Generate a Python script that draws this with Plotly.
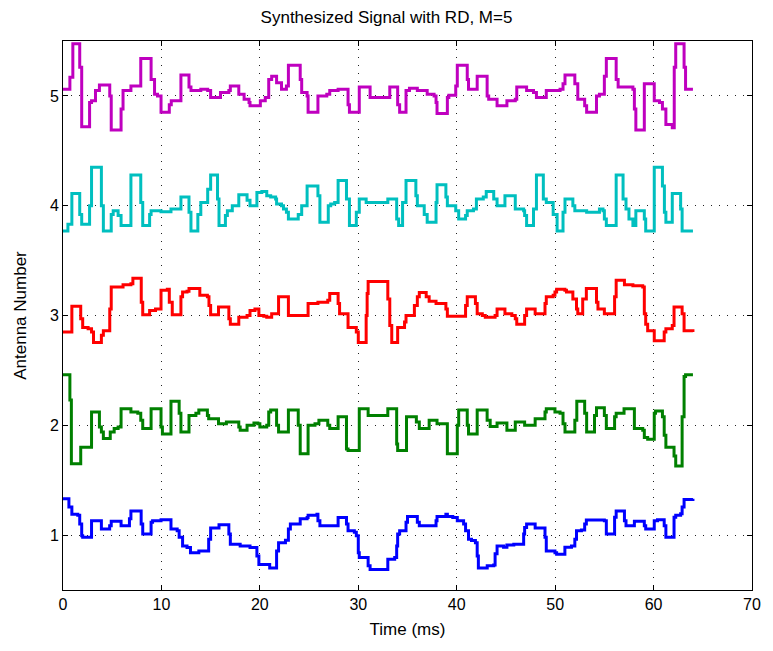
import plotly.graph_objects as go

# ---- data: step-signal breakpoints (time in ms, value) ----
t_ant1 = [0, 0.6, 0.9, 1.5, 1.7, 1.9, 2.0, 2.9, 3.9, 4.74, 4.9, 5.9, 6.75, 6.9, 7.94, 8.1, 8.95, 9.1, 9.96,
          10.97, 11.6, 11.8, 12.15, 12.6, 12.95, 13.8, 14.8, 15.0, 15.85, 16.85, 17.0, 18.0, 19.0, 19.7, 19.9,
          21.0, 21.7, 21.9, 22.6, 22.9, 23.1, 24.1, 24.8, 24.9, 25.8, 25.9, 26.1, 27.95, 28.8, 28.96, 29.6,
          29.8, 30.0, 30.1, 31.0, 31.2, 33.0, 33.7, 33.9, 34.0, 34.2, 34.85, 35.0, 36.0, 36.2, 37.9, 38.0,
          38.9, 39.05, 39.6, 40.06, 40.7, 40.9, 41.2, 41.5, 41.9, 42.08, 42.2, 43.1, 43.76, 43.9, 44.1, 44.76,
          45.1, 45.8, 46.8, 46.9, 47.1, 47.97, 48.97, 49.1, 49.98, 50.15, 50.99, 51.66, 52.0, 52.17, 52.67,
          53.0, 53.17, 55.0, 55.2, 56.04, 56.2, 57.04, 57.2, 58.05, 59.06, 59.2, 60.07, 60.4, 61.08, 61.25,
          62.08, 62.25, 62.75, 62.9, 63.1, 64.0]
v_ant1 = [1.33, 1.255, 1.19, 1.18, 1.10, 0.994, 0.98, 1.13, 1.055, 1.086, 1.126, 1.086, 1.15, 1.22, 1.10, 1.01,
          1.117, 1.13, 1.14, 1.055, 1.04, 0.98, 0.90, 0.887, 0.84, 0.856, 0.963, 1.064, 1.095, 1.01, 0.917,
          0.90, 0.887, 0.81, 0.733, 0.70, 0.856, 0.93, 0.954, 1.055, 1.10, 1.15, 1.16, 1.18, 1.19, 1.13,
          1.086, 1.16, 1.10, 1.04, 1.025, 0.994, 0.84, 0.795, 0.72, 0.687, 0.78, 0.795, 0.90, 1.01, 1.04,
          1.117, 1.17, 1.117, 1.086, 1.13, 1.17, 1.19, 1.17, 1.16, 1.13, 1.10, 1.04, 0.963, 0.95, 0.93, 0.81,
          0.70, 0.72, 0.727, 0.83, 0.90, 0.89, 0.91, 0.917, 1.01, 1.07, 1.10, 1.064, 0.98, 0.856, 0.84,
          0.825, 0.89, 0.90, 0.963, 1.04, 1.046, 1.10, 1.138, 1.13, 1.01, 1.163, 1.22, 1.13, 1.086, 1.126,
          1.086, 1.055, 1.13, 1.14, 1.086, 0.98, 1.163, 1.18, 1.195, 1.255, 1.325, 1.33]

t_ant2 = [0, 0.7, 0.85, 1.8, 2.9, 3.7, 3.9, 4.1, 4.8, 5.2, 5.6, 5.9, 6.9, 7.6, 7.9, 8.1, 8.95, 9.96, 10.1,
          10.97, 11.8, 11.98, 12.8, 13.5, 13.8, 14.67, 14.8, 15.8, 16.6, 17.86, 18.0, 18.7, 19.4, 19.8, 20.0,
          20.7, 20.9, 21.1, 21.7, 21.9, 22.9, 23.9, 24.1, 24.9, 25.6, 26.0, 26.9, 27.1, 27.95, 28.8, 28.96,
          30.1, 31.0, 33.0, 33.9, 34.0, 34.9, 35.9, 36.2, 37.2, 38.0, 39.05, 40.06, 40.2, 41.07, 41.2, 42.08,
          43.09, 43.4, 44.1, 45.1, 45.95, 46.9, 47.97, 48.97, 49.1, 49.98, 50.5, 50.8, 51.0, 52.0, 52.2,
          53.0, 53.2, 54.0, 54.2, 55.0, 55.2, 56.04, 56.2, 57.0, 58.05, 58.9, 59.06, 59.4, 60.07, 60.2,
          60.9, 61.08, 61.25, 62.08, 62.25, 62.9, 63.1, 63.25, 64.0]
v_ant2 = [2.46, 2.23, 1.65, 1.80, 2.12, 1.985, 1.94, 1.88, 1.94, 1.97, 1.985, 2.15, 2.12, 2.11, 2.046, 1.97,
          2.15, 1.985, 1.92, 2.22, 2.11, 1.94, 2.09, 2.11, 2.14, 2.09, 2.06, 2.015, 2.03, 1.985, 1.954, 2.0,
          2.02, 2.015, 1.985, 2.0, 2.12, 2.14, 2.0, 1.94, 2.14, 2.0, 1.74, 2.0, 2.015, 2.046, 2.0, 1.97,
          2.077, 1.785, 1.77, 2.15, 2.09, 2.15, 1.83, 1.77, 2.077, 2.03, 1.97, 2.046, 2.015, 1.74, 2.0, 2.14,
          2.0, 1.92, 2.14, 2.046, 1.99, 2.02, 1.954, 2.03, 2.0, 2.06, 2.12, 2.15, 2.12, 2.11, 2.015, 1.94,
          2.046, 2.22, 2.11, 1.94, 2.09, 2.16, 2.09, 1.97, 2.077, 2.11, 2.15, 1.97, 1.954, 1.89, 1.874, 2.11,
          2.13, 2.077, 1.91, 1.80, 1.72, 1.63, 2.077, 2.445, 2.46, 2.46]

t_ant3 = [0, 0.9, 1.8, 2.0, 2.55, 2.9, 3.1, 3.9, 4.1, 4.75, 4.9, 6.1, 6.9, 7.1, 7.95, 8.1, 8.8, 9.4, 9.96,
          10.6, 10.8, 11.1, 11.98, 12.15, 12.6, 12.8, 13.9, 14.67, 14.83, 15.0, 15.8, 16.85, 17.0, 17.86,
          18.7, 19.0, 19.5, 19.9, 20.4, 20.7, 21.2, 21.9, 22.9, 24.9, 25.9, 26.9, 27.1, 27.95, 28.1, 28.96,
          29.8, 30.0, 30.8, 30.9, 31.0, 33.0, 33.2, 33.4, 34.0, 34.7, 34.85, 35.7, 36.0, 36.2, 36.9, 37.2,
          37.9, 38.9, 39.05, 40.9, 41.07, 41.9, 42.08, 42.6, 42.9, 43.9, 44.1, 44.9, 45.6, 45.95, 46.1, 46.9,
          47.1, 47.97, 48.97, 49.1, 49.8, 49.98, 50.15, 50.99, 51.15, 51.8, 52.17, 52.3, 52.8, 53.17, 54.2,
          54.35, 55.0, 56.04, 56.2, 57.04, 57.9, 58.9, 59.06, 59.2, 59.4, 60.07, 61.08, 61.25, 61.9, 62.08,
          62.9, 63.1, 64.0]
v_ant3 = [2.85, 3.085, 2.97, 2.89, 2.88, 2.85, 2.755, 2.82, 2.86, 3.06, 3.26, 3.28, 3.29, 3.34, 3.12, 3.006,
          3.046, 3.06, 3.23, 3.24, 3.12, 3.006, 3.17, 3.215, 3.22, 3.245, 3.185, 3.17, 3.09, 3.006, 3.077,
          2.97, 2.92, 2.985, 3.0, 3.046, 3.06, 3.0, 2.994, 2.985, 3.015, 3.17, 3.0, 3.11, 3.12, 3.14, 3.2,
          3.11, 3.015, 2.89, 2.85, 2.755, 3.0, 3.2, 3.31, 3.15, 2.91, 2.755, 2.89, 2.94, 3.0, 3.09, 3.17,
          3.21, 3.17, 3.13, 3.11, 3.06, 2.994, 3.09, 3.17, 3.11, 3.015, 3.0, 2.985, 3.0, 3.06, 3.015, 3.0,
          2.97, 2.92, 3.0, 3.06, 3.015, 3.11, 3.17, 3.185, 3.215, 3.24, 3.23, 3.215, 3.15, 3.06, 3.015, 3.15,
          3.245, 3.12, 3.06, 3.015, 3.17, 3.32, 3.28, 3.27, 3.26, 3.015, 2.92, 2.86, 2.77, 2.85, 2.88, 2.91,
          3.077, 3.015, 2.86, 2.85]

t_ant4 = [0, 0.5, 0.9, 1.7, 1.9, 2.7, 2.9, 3.9, 4.1, 4.9, 5.1, 5.6, 5.9, 6.9, 7.9, 8.1, 8.8, 8.95, 9.96,
          10.97, 11.98, 12.8, 13.0, 13.7, 14.0, 14.7, 15.0, 15.7, 15.85, 16.5, 16.7, 17.2, 17.86, 18.7, 19.0,
          19.7, 20.2, 20.7, 21.1, 21.6, 21.7, 22.2, 22.4, 22.7, 22.9, 23.9, 24.25, 24.8, 25.9, 26.1, 26.95,
          27.2, 27.6, 27.95, 28.8, 29.1, 29.8, 30.1, 30.8, 33.0, 33.9, 34.1, 34.5, 34.85, 35.85, 36.0, 36.7,
          37.0, 37.9, 38.0, 38.9, 39.05, 39.9, 40.2, 40.9, 41.07, 41.7, 42.0, 42.7, 43.0, 43.76, 44.1, 44.9,
          45.95, 46.8, 46.9, 47.1, 47.8, 48.1, 48.8, 49.1, 49.8, 50.2, 50.8, 51.0, 51.8, 52.0, 53.2, 54.5,
          54.86, 55.0, 55.2, 56.2, 56.9, 57.2, 57.5, 57.9, 58.2, 59.06, 59.2, 60.07, 60.9, 61.1, 61.25, 61.9,
          62.75, 62.9, 64.0]
v_ant4 = [3.77, 3.83, 4.11, 3.92, 3.83, 4.0, 4.35, 4.0, 3.77, 3.92, 3.955, 3.91, 3.82, 4.28, 4.03, 3.82,
          3.92, 3.955, 3.945, 3.97, 4.08, 3.94, 3.77, 3.92, 4.03, 4.15, 4.28, 4.06, 3.82, 3.91, 3.955, 4.0,
          4.10, 4.05, 4.0, 4.12, 4.13, 4.09, 4.08, 4.06, 4.015, 4.0, 3.97, 3.94, 3.88, 3.92, 4.0, 4.18, 4.09,
          3.85, 4.0, 4.015, 4.03, 4.23, 4.06, 3.82, 3.94, 4.06, 4.03, 4.06, 3.88, 3.82, 4.03, 4.23, 4.09,
          4.0, 3.92, 3.85, 4.03, 4.19, 4.08, 4.0, 3.955, 3.88, 3.91, 3.955, 3.97, 4.06, 4.08, 4.13, 4.06,
          4.0, 4.09, 3.97, 3.955, 3.91, 3.82, 3.97, 4.28, 4.06, 4.03, 3.92, 3.77, 3.94, 4.06, 4.0, 3.955,
          3.94, 3.97, 3.955, 3.88, 3.82, 4.28, 4.06, 3.97, 3.88, 3.82, 3.955, 3.88, 3.77, 4.35, 4.18, 3.94,
          3.85, 4.11, 3.97, 3.77, 3.77]

t_ant5 = [0, 0.7, 1.0, 1.7, 1.9, 2.7, 2.9, 3.3, 3.7, 4.75, 4.9, 5.9, 6.1, 6.9, 7.9, 8.95, 9.3, 9.6, 9.96,
          10.8, 11.0, 11.98, 12.8, 13.0, 14.0, 14.7, 15.0, 16.0, 16.85, 17.0, 17.86, 18.4, 18.9, 19.0, 20.05,
          20.55, 20.9, 21.2, 21.7, 22.2, 22.7, 22.9, 24.1, 24.25, 24.8, 24.9, 25.9, 26.8, 27.1, 27.95, 28.96,
          29.1, 30.1, 31.2, 33.2, 34.0, 34.2, 34.85, 35.2, 36.0, 37.0, 37.7, 37.9, 38.0, 39.05, 39.2, 39.9,
          40.06, 41.07, 41.2, 42.08, 43.09, 43.25, 44.1, 45.1, 45.95, 46.1, 47.1, 47.8, 48.1, 49.1, 50.5,
          50.8, 51.0, 52.0, 52.3, 53.0, 53.2, 54.2, 54.5, 55.0, 55.2, 56.2, 56.4, 57.9, 58.05, 58.2, 59.06,
          60.07, 60.6, 60.9, 61.25, 61.9, 62.1, 62.25, 63.1, 63.25, 64.0]
v_ant5 = [5.06, 5.17, 5.475, 5.26, 4.72, 4.94, 4.955, 5.05, 5.10, 5.0, 4.69, 4.88, 5.05, 5.09, 5.34, 5.15,
          5.015, 5.0, 4.85, 4.92, 4.955, 5.19, 5.08, 5.05, 5.06, 5.05, 4.985, 5.03, 5.05, 5.09, 5.015, 4.97,
          4.94, 4.91, 4.955, 4.985, 5.15, 5.18, 5.12, 5.06, 5.09, 5.28, 5.15, 5.03, 5.0, 4.85, 5.0, 5.015,
          5.05, 5.06, 4.92, 4.85, 5.08, 4.985, 5.08, 4.92, 4.85, 5.05, 5.07, 5.05, 5.015, 5.0, 4.94, 4.84,
          4.985, 5.005, 5.09, 5.28, 5.15, 5.06, 5.18, 5.0, 4.97, 4.91, 4.955, 4.97, 5.08, 5.05, 5.03, 4.985,
          5.05, 5.06, 5.11, 5.19, 5.11, 4.97, 4.91, 4.85, 5.0, 5.015, 5.18, 5.34, 5.15, 5.08, 5.06, 4.88,
          4.69, 5.11, 4.955, 4.94, 4.88, 4.74, 4.71, 5.26, 5.475, 5.26, 5.06, 5.06]

series = [
    (t_ant1, v_ant1, "#0000FF"),
    (t_ant2, v_ant2, "#008000"),
    (t_ant3, v_ant3, "#FF0000"),
    (t_ant4, v_ant4, "#00BFBF"),
    (t_ant5, v_ant5, "#BF00BF"),
]

x_ticks = [0, 10, 20, 30, 40, 50, 60, 70]
y_ticks = [1, 2, 3, 4, 5]

fig = go.Figure()
for t, v, c in series:
    fig.add_trace(go.Scatter(x=t, y=v, mode="lines", line=dict(color=c, width=3, shape="hv"),
                             showlegend=False, hoverinfo="skip"))

font_family = "Liberation Sans, Arial, sans-serif"
axis_common = dict(
    showline=True, linecolor="black", linewidth=1, mirror="ticks",
    ticks="inside", ticklen=5, tickcolor="black", tickwidth=1,
    showgrid=True, gridcolor="#222222", gridwidth=1, griddash="1px,7px",
    zeroline=False, tickfont=dict(size=16, color="black", family=font_family),
)

fig.update_layout(
    width=773, height=651,
    margin=dict(l=63, r=16, t=41, b=61),
    paper_bgcolor="white", plot_bgcolor="white",
    title=dict(text="Synthesized Signal with RD, M=5", x=0.5, xanchor="center", y=0.974, yanchor="middle",
               font=dict(size=17, color="black", family=font_family)),
    xaxis=dict(range=[0, 70], tickvals=x_ticks, ticktext=[str(v) for v in x_ticks],
               title=dict(text="Time (ms)", font=dict(size=17, color="black", family=font_family), standoff=10),
               **axis_common),
    yaxis=dict(range=[0.5, 5.5], tickvals=y_ticks, ticktext=[str(v) for v in y_ticks],
               title=dict(text="Antenna Number", font=dict(size=17, color="black", family=font_family), standoff=18),
               **axis_common),
)

fig.write_html("out.html")
